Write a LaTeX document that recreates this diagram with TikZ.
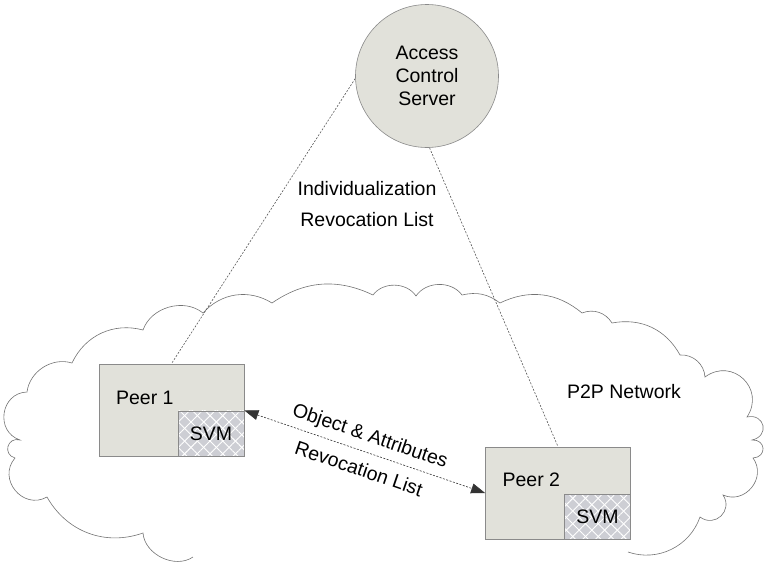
\documentclass[tikz,border=0pt]{standalone}
\usepackage{fontspec}
\setmainfont{Liberation Sans}
\usetikzlibrary{arrows.meta,patterns.meta}

\definecolor{boxfill}{HTML}{E1E1DA}
\definecolor{svmfill}{HTML}{CDCED4}
\definecolor{edgegray}{HTML}{8A8A8A}

\tikzset{
  txt/.style={font=\fontsize{19.5}{23}\selectfont},
  server/.style={
    txt,draw=edgegray,circle,fill=boxfill,line width=0.6pt,
    minimum size=143pt,align=center,
  },
  peer/.style={
    draw=edgegray,fill=boxfill,line width=0.8pt,
    minimum width=145pt,minimum height=92pt,inner sep=0pt,
  },
  svm/.style={
    txt,draw=edgegray,line width=0.8pt,anchor=south east,
    minimum width=66pt,minimum height=45pt,inner sep=0pt,
    preaction={fill=svmfill},
    preaction={pattern={Lines[angle=45,distance=9pt,line width=0.9pt]},pattern color=white},
    pattern={Lines[angle=-45,distance=9pt,line width=0.9pt]},pattern color=white,
  },
  link/.style={draw=black!65,line width=0.6pt,dash pattern=on 2pt off 1.5pt},
  netline/.style={draw=black!55,line width=0.6pt},
}

\begin{document}
\begin{tikzpicture}[x=1pt,y=-1pt]
    \useasboundingbox (0,0) rectangle (769,562);

    % P2P cloud
    \draw[netline] (193,557)
      to[bend left=60] (143,533)
      to[bend left=40] (47,497)
      to[bend left=80,looseness=1.4] (15,458)
      to[bend left=90,looseness=1.8] (20,440)
      to[bend left=80,looseness=1.4] (27,392)
      to[bend left=50] (72,363)
      to[bend left=40] (143,330)
      to[bend left=55] (203,313)
      to[bend left=40] (272,303)
      to[bend left=30] (373,295)
      to[bend left=55] (416,296)
      to[bend left=55] (462,295)
      to[bend left=25] (500,303)
      to[bend left=33] (582,313)
      to[bend left=40] (612,323)
      to[bend left=36] (680,355)
      to[bend left=45] (705,377)
      to[bend left=80,looseness=1.5] (747,417)
      to[bend left=90,looseness=2] (752,440)
      to[bend left=90,looseness=2] (753,458)
      to[bend left=75,looseness=1.3] (723,495)
      to[bend left=80,looseness=1.5] (700,517)
      to[bend left=45] (628,552);

    \node[server] (acs) at (427,76) {Access\\Control\\Server};
    \node[txt,align=center] (irl) at (367,204) {Individualization\\[8pt]Revocation List};
    \node[txt] (p2p) at (624,392) {P2P Network};

    \node[peer] (peer1) at (171.5,410) {};
    \node[svm] (svm1) at (peer1.south east) {SVM};
    \node[txt,anchor=west,xshift=14pt,yshift=-34pt] (name1) at (peer1.north west) {Peer 1};

    \node[peer] (peer2) at (558,493) {};
    \node[svm] (svm2) at (peer2.south east) {SVM};
    \node[txt,anchor=west,xshift=14pt,yshift=-33pt] (name2) at (peer2.north west) {Peer 2};

    \draw[link] (acs.182) -- (peer1.north);
    \draw[link] (acs.-88) -- (peer2.north);

    \draw[link,draw=black!80,{Triangle[length=14pt,width=10pt]}-{Triangle[length=14pt,width=10pt]}]
      (svm1.north east) --
      node[txt,sloped,above=3pt,pos=0.5] (objattr) {Object \& Attributes}
      node[txt,sloped,below=7pt,pos=0.5] (revlist) {Revocation List}
      (peer2.west);
  \end{tikzpicture}
\end{document}
